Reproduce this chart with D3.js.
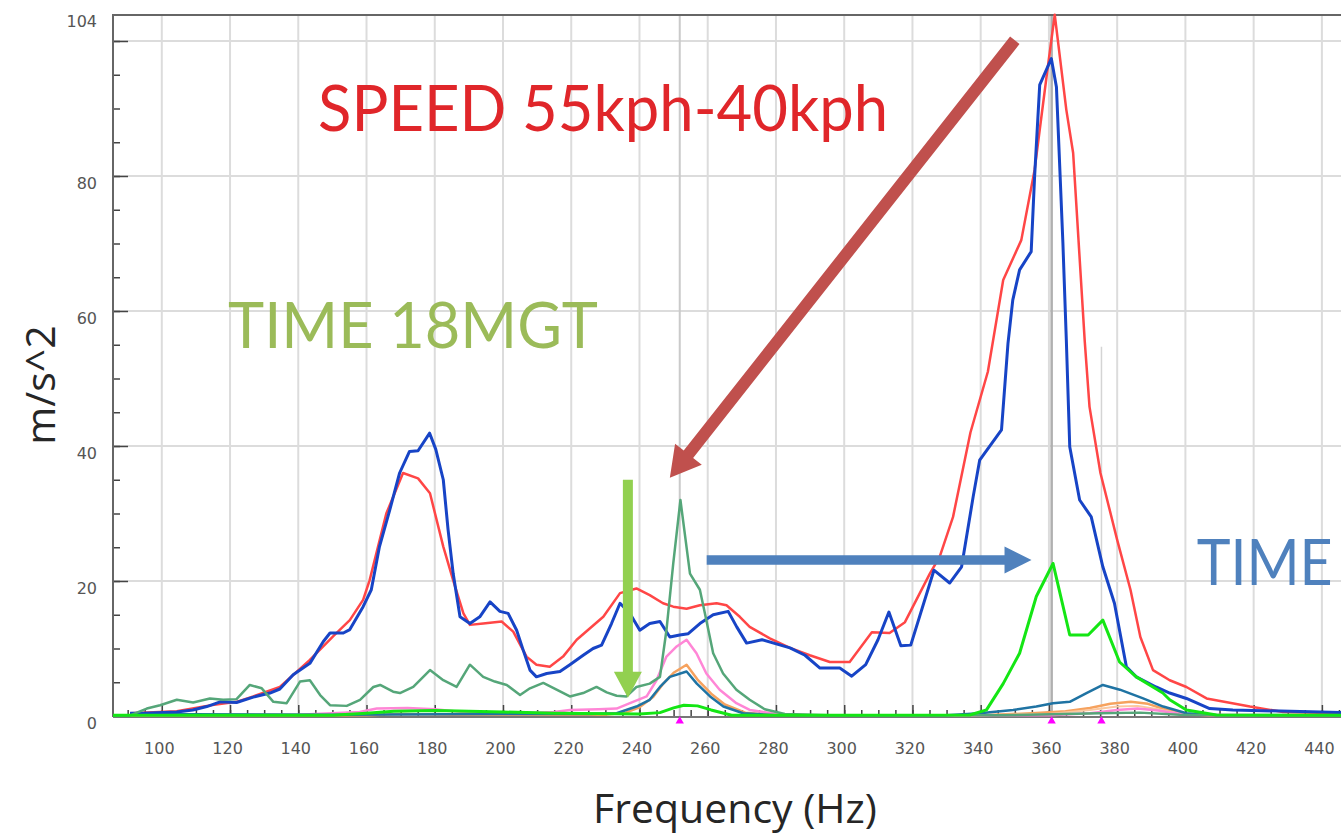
<!DOCTYPE html>
<html><head><meta charset="utf-8">
<script src="https://cdn.jsdelivr.net/npm/d3@7"></script>
<style>html,body{margin:0;padding:0;background:#fff;overflow:hidden}</style>
</head><body>
<svg id="chart" width="1341" height="837"></svg>
<script>
// ---------- DATA (frequency Hz / acceleration m/s^2) ----------
const redF = [90.7,104.4,113.2,121.9,126.8,134.6,143.4,150.2,155.1,159.0,160.9,165.8,170.7,175.1,178.6,182.5,185.4,188.4,190.3,194.2,199.6,203.0,206.9,209.8,213.7,217.6,221.6,225.5,229.4,234.3,239.1,243.0,246.9,249.9,253.8,257.7,262.6,265.5,269.4,272.3,278.2,284.1,289.9,295.8,301.6,308.1,313.3,317.8,325.1,328.0,331.9,337.0,342.1,346.6,351.9,355.8,359.3,361.7,365.1,367.1,370.5,371.9,375.1,380.0,383.9,386.8,390.5,395.4,400.3,406.2,418.9,428.6,445.6];
const redV = [0.4,0.7,1.5,2.1,2.9,4.3,8.3,11.8,14.2,17.2,20.1,30.0,36.0,35.2,33.0,25.1,20.1,15.2,13.5,13.7,14.0,12.5,8.8,7.6,7.3,8.8,11.3,13.0,14.7,18.2,18.9,17.9,16.7,16.2,15.9,16.4,16.7,16.4,14.7,13.2,11.5,10.1,9.0,8.0,8.0,12.4,12.3,13.9,21.1,23.6,29.5,42.0,51.0,64.6,70.5,80.9,94.7,103.9,89.8,83.4,55.5,45.8,36.0,26.1,18.7,11.7,6.8,5.3,4.3,2.6,1.4,0.6,0.4];

const blueF = [90.7,94.6,104.4,109.1,113.2,117.1,121.9,126.8,131.7,134.6,138.5,143.4,147.3,149.3,153.2,155.1,159.0,161.4,163.8,166.8,169.7,172.6,175.1,178.5,180.3,182.5,183.9,185.4,187.4,190.3,193.2,196.2,199.1,201.5,204.0,205.9,207.9,209.8,212.8,216.7,219.6,223.5,226.4,228.9,231.8,234.3,237.2,240.1,243.0,246.0,248.9,251.8,254.3,257.7,261.6,266.0,268.5,271.4,275.9,284.1,288.5,292.9,298.7,302.2,306.3,309.9,313.1,316.6,319.5,326.3,330.9,334.4,337.8,339.7,346.1,348.0,349.4,351.4,354.8,355.8,357.3,360.7,362.2,364.1,365.1,366.1,369.0,372.4,375.8,379.2,382.7,385.6,391.4,395.4,400.3,407.1,413.9,445.6];
const blueV = [0.4,0.4,0.6,0.9,1.4,2.1,2.0,2.8,3.4,4.0,6.1,7.8,11.0,12.3,12.3,12.8,16.2,18.7,25.1,30.5,36.0,39.2,39.3,41.9,39.5,35.0,27.6,21.1,14.7,13.7,14.7,16.9,15.5,15.2,12.7,9.8,6.8,5.8,6.3,6.6,7.6,9.0,10.0,10.5,13.7,16.7,15.2,12.7,13.7,14.0,11.7,12.0,12.2,13.7,15.0,15.5,13.2,10.8,11.3,10.1,9.0,7.1,7.1,5.9,7.6,11.3,15.4,10.4,10.5,21.6,19.7,22.1,32.5,37.9,42.4,55.2,61.6,66.1,68.8,79.9,93.5,97.4,93.2,70.0,55.7,39.9,32.0,29.5,22.1,16.7,7.3,5.8,4.3,3.4,2.6,1.1,0.9,0.5];

const seaF = [85.8,90.7,95.6,99.5,104.4,109.2,114.1,118.0,121.9,125.8,129.3,132.7,136.6,140.5,143.4,146.4,149.3,154.2,158.1,162.0,164.0,167.8,169.8,173.7,178.6,182.5,186.4,190.3,194.2,197.6,201.1,205.0,207.9,211.8,215.7,219.6,223.5,227.4,230.4,233.3,236.2,239.1,243.0,246.0,247.9,249.9,252.0,254.8,257.7,259.6,261.6,264.5,268.4,272.3,276.7,282.6,295.8,345.6,374.9,386.6,398.3,445.6];
const seaV = [0.0,0.1,1.1,1.6,2.4,2.0,2.6,2.4,2.5,4.6,4.1,2.1,1.9,5.1,5.3,3.1,1.6,1.5,2.4,4.3,4.6,3.6,3.4,4.3,6.8,5.3,4.3,7.6,5.8,5.1,4.6,3.1,4.1,4.9,3.9,2.9,3.4,4.3,3.5,3.0,2.9,4.3,4.8,5.8,12.7,22.6,32.0,21.1,18.7,14.2,9.3,6.3,3.9,2.4,1.0,0.3,0.1,0.1,0.4,0.5,0.2,0.1];

const limeF = [85.7,150,160,168,180,200,215,240,246,250,253,257,261,267,300,336.8,341.7,346.6,351.4,356.3,361.2,366.1,371.5,375.8,380.7,385.6,393.4,395.4,400.3,409.1,445.6];
const limeV = [0.1,0.1,0.4,0.7,0.8,0.6,0.4,0.3,0.5,1.2,1.6,1.5,0.9,0.1,0.1,0.15,0.9,4.8,9.3,17.7,22.6,12.0,12.0,14.2,8.0,5.8,3.4,2.4,0.9,0.15,0.1];

const tealF = [90.7,150,200,225,233.3,239.1,243.0,246.0,248.9,253.8,256.8,260.7,264.6,270.4,280,330,339.7,349.5,356.3,361.2,366.1,371.0,375.8,380.8,387.6,393.5,400.3,409,445.6];
const tealV = [0.3,0.2,0.3,0.3,0.4,1.4,2.4,4.3,5.8,6.6,4.8,2.9,1.4,0.4,0.1,0.1,0.4,0.9,1.4,1.9,2.1,3.4,4.6,3.9,2.6,1.4,0.4,0.1,0.1];

const orangeF = [90.7,160,170,185,230,236,240,244,247,250,253.8,257,261,265,271,280,340,355,365,372,378,384,389,394,400,410,445.6];
const orangeV = [0.1,0.1,0.3,0.2,0.2,0.5,1.3,2.8,4.8,6.4,7.6,5.4,3.3,1.7,0.5,0.1,0.1,0.4,0.7,1.2,1.8,2.1,1.8,1.0,0.3,0.05,0.05];

const salmonF = [330,360,372,380,386,392,400,445.6];
const salmonV = [0.05,0.3,0.9,1.4,1.5,1.0,0.2,0.05];

const pinkF = [90.7,140,158,163,172,180,190,205,215,219.6,228,233.3,237.2,242.1,245.0,247.9,250.9,253.8,256.7,259.6,263.5,268.4,272.3,280,290,360,372,380,386,392,400,445.6];
const pinkV = [0.1,0.2,0.6,1.1,1.2,1.0,0.5,0.4,0.6,0.9,1.0,1.1,1.9,2.9,5.3,8.8,10.3,11.3,9.3,6.3,3.9,1.9,0.9,0.3,0.1,0.1,0.4,0.9,1.1,0.8,0.2,0.05];

const markerF = [251.8, 360.8, 375.4];
const xTickLabels = [100,120,140,160,180,200,220,240,260,280,300,320,340,360,380,400,420,440];
const yTickLabels = [0,20,40,60,80,104];
const yGrid = [20,40,60,80,100];

// ---------- SCALES ----------
const svg = d3.select('#chart');
const x = d3.scaleLinear().domain([85.7, 445.6]).range([113, 1341]);
const y = d3.scaleLinear().domain([0, 104]).range([716, 14]);
const X0 = x(85.7), XR = 1341, YT = y(104), YB = y(0);

// gridlines
svg.append('g').selectAll('line').data(xTickLabels).join('line')
  .attr('x1', d => x(d)).attr('x2', d => x(d)).attr('y1', YT).attr('y2', YB)
  .attr('stroke', '#dcdcdc').attr('stroke-width', 2);
svg.append('g').selectAll('line').data(yGrid).join('line')
  .attr('x1', X0).attr('x2', XR).attr('y1', d => y(d)).attr('y2', d => y(d))
  .attr('stroke', '#dcdcdc').attr('stroke-width', 2);

// marker lines
svg.append('line').attr('x1', x(markerF[0])).attr('x2', x(markerF[0])).attr('y1', YT).attr('y2', YB)
  .attr('stroke', '#cacaca').attr('stroke-width', 2);
svg.append('line').attr('x1', x(markerF[1])).attr('x2', x(markerF[1])).attr('y1', YT).attr('y2', YB)
  .attr('stroke', '#b0b0b0').attr('stroke-width', 2.5);
svg.append('line').attr('x1', x(markerF[2])).attr('x2', x(markerF[2])).attr('y1', y(54.7)).attr('y2', YB)
  .attr('stroke', '#d4d4d4').attr('stroke-width', 1.5);

// axes
const tickFont = "'DejaVu Sans', sans-serif";
const xMinor = d3.range(90, 446, 5);
const yMinor = d3.range(5, 104, 5);
const gxMinor = svg.append('g').attr('transform', `translate(0,${YB})`)
  .call(d3.axisBottom(x).tickValues(xMinor).tickSize(-6).tickFormat(''));
const gxMajor = svg.append('g').attr('transform', `translate(0,${YB})`)
  .call(d3.axisBottom(x).tickValues(xTickLabels).tickSize(-11).tickPadding(27));
const gyMinor = svg.append('g').attr('transform', `translate(${X0},0)`)
  .call(d3.axisLeft(y).tickValues(yMinor).tickSize(-7).tickFormat(''));
const gyMajor = svg.append('g').attr('transform', `translate(${X0},0)`)
  .call(d3.axisLeft(y).tickValues(yGrid).tickSize(-15).tickFormat(''));
const gyLab = svg.append('g').attr('transform', `translate(${X0},0)`)
  .call(d3.axisLeft(y).tickValues(yTickLabels).tickSize(0).tickPadding(16).tickFormat(d3.format('d')));
[gxMinor, gxMajor, gyMinor, gyMajor, gyLab].forEach(g => {
  g.select('.domain').remove();
  g.selectAll('.tick line').attr('stroke', '#444').attr('stroke-width', 1.5);
  g.selectAll('text').attr('fill', '#555').style('font-family', tickFont).style('font-size', '16px');
});
gxMajor.selectAll('text').attr('dx', -3);
gyLab.selectAll('text').attr('dy', '0.78em');

// frame
svg.append('line').attr('x1', X0).attr('x2', XR).attr('y1', YT+1).attr('y2', YT+1).attr('stroke', '#666').attr('stroke-width', 2);
svg.append('line').attr('x1', X0).attr('x2', X0).attr('y1', YT).attr('y2', YB+1).attr('stroke', '#666').attr('stroke-width', 2);
svg.append('line').attr('x1', X0).attr('x2', XR).attr('y1', YB+1).attr('y2', YB+1).attr('stroke', '#777').attr('stroke-width', 2);

// markers (triangles)
svg.append('g').selectAll('path').data(markerF).join('path')
  .attr('d', d3.symbol().type(d3.symbolTriangle).size(30))
  .attr('transform', d => `translate(${x(d)},${YB+5})`)
  .attr('fill', '#ff00ff');

// series
const series = [
  {f: orangeF, v: orangeV, c: '#f6a25e', w: 2.5},
  {f: salmonF, v: salmonV, c: '#fbc8a0', w: 2},
  {f: pinkF, v: pinkV, c: '#ff86d6', w: 2.5},
  {f: tealF, v: tealV, c: '#1f73a3', w: 2.5},
  {f: redF, v: redV, c: '#ff4646', w: 2.5},
  {f: blueF, v: blueV, c: '#1744c6', w: 3},
  {f: seaF, v: seaV, c: '#55a679', w: 2.5},
  {f: limeF, v: limeV, c: '#14e614', w: 3}
];
const line = d3.line().x(d => x(d[0])).y(d => y(d[1]));
series.forEach(s => {
  svg.append('path').datum(s.f.map((f, i) => [f, s.v[i]]))
    .attr('d', line).attr('fill', 'none').attr('stroke', s.c)
    .attr('stroke-width', s.w).attr('stroke-linejoin', 'round');
});

// axis titles
svg.append('text').attr('x', 735).attr('y', 823).attr('text-anchor', 'middle')
  .style('font-family', "'Open Sans', sans-serif").style('font-size', '41px').attr('fill', '#262626')
  .text('Frequency (Hz)');
svg.append('text').attr('transform', 'translate(55,385) rotate(-90)').attr('text-anchor', 'middle')
  .style('font-family', "'Open Sans', sans-serif").style('font-size', '41px').attr('fill', '#262626')
  .text('m/s^2');

// annotations
function arrow(t, h, color, sw, hl, hw) {
  const x1 = x(t[0]), y1 = y(t[1]), x2 = x(h[0]), y2 = y(h[1]);
  const dx = x2 - x1, dy = y2 - y1, L = Math.hypot(dx, dy), ux = dx / L, uy = dy / L, px = -uy, py = ux;
  const bx = x2 - ux * hl, by = y2 - uy * hl;
  const pts = [
    [x1 + px * sw / 2, y1 + py * sw / 2], [bx + px * sw / 2, by + py * sw / 2],
    [bx + px * hw, by + py * hw], [x2, y2], [bx - px * hw, by - py * hw],
    [bx - px * sw / 2, by - py * sw / 2], [x1 - px * sw / 2, y1 - py * sw / 2]
  ];
  svg.append('polygon').attr('points', pts.map(p => p.join(',')).join(' ')).attr('fill', color);
}
arrow([350.0, 100.1], [248.9, 35.3], '#c0504d', 12, 30, 17);
arrow([236.6, 35.0], [236.6, 2.7], '#92d050', 10, 26, 14);
arrow([259.7, 23.1], [354.9, 23.1], '#4f81bd', 9.5, 27, 13.5);

const annFont = "Lato, 'Open Sans', sans-serif";
function ann(txt, f, v, len, color) {
  svg.append('text').attr('x', x(f)).attr('y', y(v)).attr('textLength', len).attr('lengthAdjust', 'spacingAndGlyphs')
    .style('font-family', annFont).style('font-size', '64px').attr('fill', color).text(txt);
}
ann('SPEED 55kph-40kph', 145.8, 86.7, 570, '#e0262a');
ann('TIME 18MGT', 119.4, 54.5, 370, '#9bbb59');
ann('TIME', 403.3, 19.4, 136, '#4f81bd');
</script></body></html>
